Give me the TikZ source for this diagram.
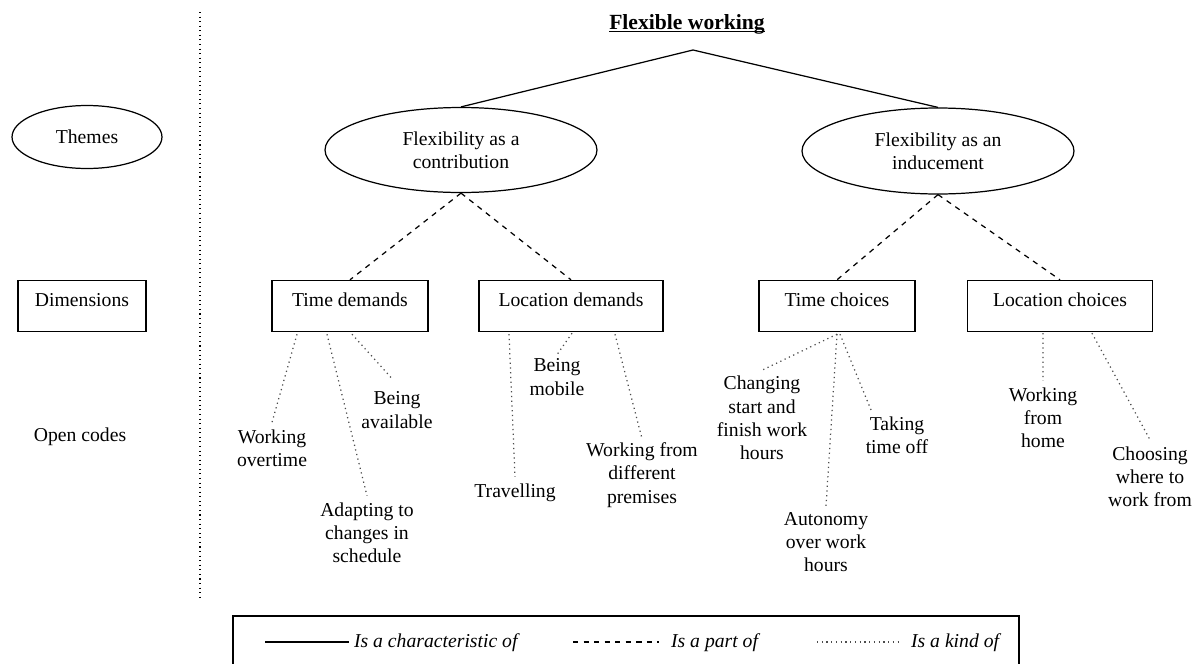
\documentclass[tikz,border=0pt]{standalone}
\usepackage{fontspec}
\setmainfont{Liberation Serif}
\usetikzlibrary{shapes.geometric}
\begin{document}
\begin{tikzpicture}[x=0.02cm,y=-0.02cm,
  every node/.style={font=\fontsize{11.2}{13.2}\selectfont, align=center},
  theme/.style={draw, ellipse, line width=0.7pt, inner sep=0pt},
  dimbox/.style={draw, rectangle, line width=0.8pt, minimum height=1.02cm,
    text height=1.5ex, text depth=1.5ex},
  code/.style={inner sep=1pt},
  kindof/.style={dotted, line width=0.7pt, black!70},
  partof/.style={dashed, line width=0.7pt},
  charof/.style={line width=0.7pt}]
\useasboundingbox (0,0) rectangle (1200,663);
% left column
\draw[dotted, line width=0.6pt] (200,12) -- (200,598);
\node[theme, minimum width=3.0cm, minimum height=1.26cm] (themes) at (87,137) {Themes};
\node[dimbox, minimum width=2.56cm] (dims) at (82,306) {Dimensions};
\node (open) at (80,437) {Open codes};
% themes
\node[inner sep=0pt] (title) at (687,31) {\fontsize{12.3}{14}\selectfont\underline{\smash{\textbf{Flexible working}}}};
\coordinate (apex) at (693,50);
\node[theme, minimum width=5.44cm, minimum height=1.7cm] (contr) at (461,150) {Flexibility as a\\contribution};
\node[theme, minimum width=5.44cm, minimum height=1.72cm] (induc) at (938,151) {Flexibility as an\\inducement};
\draw[charof] (contr.north) -- (apex) -- (induc.north);
% dimensions
\node[dimbox, minimum width=3.12cm] (tdem) at (350,306) {Time demands};
\node[dimbox, minimum width=3.68cm] (ldem) at (571,306) {Location demands};
\node[dimbox, minimum width=3.12cm] (tcho) at (837,306) {Time choices};
\node[dimbox, minimum width=3.7cm] (lcho) at (1060,306) {Location choices};
\draw[partof] (contr.south) -- (tdem.north);
\draw[partof] (contr.south) -- (ldem.north);
\draw[partof] (induc.south) -- (tcho.north);
\draw[partof] (induc.south) -- (lcho.north);
% open codes
\node[code] (wover) at (272,448) {Working\\overtime};
\node[code] (adapt) at (367,533) {Adapting to\\changes in\\schedule};
\node[code] (avail) at (397,410) {Being\\available};
\node[code] (travel) at (515,493) {Travelling};
\node[code] (mobile) at (557,377) {Being\\mobile};
\node[code] (premis) at (642,475) {Working from\\different\\premises};
\node[code] (startf) at (762,418) {Changing\\start and\\finish work\\hours};
\node[code] (autono) at (826,542) {Autonomy\\over work\\hours};
\node[code] (timoff) at (897,435) {Taking\\time off};
\node[code] (home) at (1043,418) {Working\\from\\home};
\node[code] (where) at (1150,477) {Choosing\\where to\\work from};
\draw[kindof] ([xshift=-1.06cm,yshift=-0.04cm]tdem.south) -- ([yshift=0.1cm]wover.north);
\draw[kindof] ([xshift=-0.46cm,yshift=-0.04cm]tdem.south) -- ([yshift=0.1cm]adapt.north);
\draw[kindof] ([xshift=0.04cm,yshift=-0.04cm]tdem.south) -- ([xshift=-0.08cm,yshift=0.2cm]avail.north);
\draw[kindof] ([xshift=-1.24cm,yshift=-0.04cm]ldem.south) -- ([yshift=0.1cm]travel.north);
\draw[kindof] ([xshift=0.02cm,yshift=-0.02cm]ldem.south) -- ([yshift=0.04cm]mobile.north);
\draw[kindof] ([xshift=0.88cm,yshift=-0.04cm]ldem.south) -- ([yshift=0.04cm]premis.north);
\draw[kindof] ([yshift=-0.04cm]tcho.south) -- ([yshift=0.08cm]startf.north);
\draw[kindof] ([yshift=-0.04cm]tcho.south) -- ([yshift=0.08cm]autono.north);
\draw[kindof] ([xshift=0.06cm,yshift=-0.04cm]tcho.south) -- ([xshift=-0.5cm,yshift=0.04cm]timoff.north);
\draw[kindof] ([xshift=-0.34cm,yshift=-0.02cm]lcho.south) -- ([yshift=0.1cm]home.north);
\draw[kindof] ([xshift=0.64cm,yshift=-0.02cm]lcho.south) -- ([yshift=0.1cm]where.north);
% legend
\draw[line width=0.8pt] (233,680) -- (233,616) -- (1019,616) -- (1019,680);
\node[anchor=west, inner sep=1pt] (lchar) at (352,643) {\textit{Is a characteristic of}};
\node[anchor=west, inner sep=1pt] (lpart) at (669,643) {\textit{Is a part of}};
\node[anchor=west, inner sep=1pt] (lkind) at (909,643) {\textit{Is a kind of}};
\coordinate (lsolid) at (265,642);
\coordinate (ldash) at (573,642);
\coordinate (ldot) at (817,642);
\draw[charof] (lsolid) -- ([xshift=-0.06cm,yshift=0.02cm]lchar.west);
\draw[partof] (ldash) -- ([xshift=-0.2cm,yshift=0.02cm]lpart.west);
\draw[kindof] (ldot) -- ([xshift=-0.2cm,yshift=0.02cm]lkind.west);
\end{tikzpicture}
\end{document}
